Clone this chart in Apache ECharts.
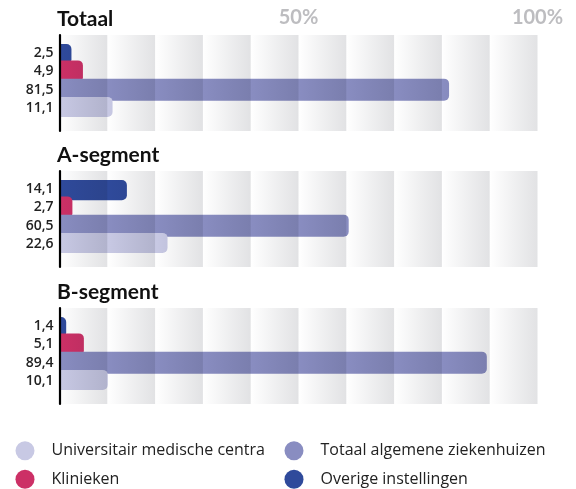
<!DOCTYPE html>
<html>
<head>
<meta charset="utf-8">
<script src="https://cdn.jsdelivr.net/npm/echarts@6/dist/echarts.min.js"></script>
<style>
  html, body { margin: 0; padding: 0; background: #fff; }
  #chart { width: 576px; height: 489px; }
</style>
</head>
<body>
<div id="chart"></div>
<script>
// data
const groups = ['Totaal', 'A-segment', 'B-segment'];
const seriesNames = ['Overige instellingen', 'Klinieken', 'Totaal algemene ziekenhuizen', 'Universitair medische centra'];
const totaalValues = [2.5, 4.9, 81.5, 11.1];
const aSegmentValues = [14.1, 2.7, 60.5, 22.6];
const bSegmentValues = [1.4, 5.1, 89.4, 10.1];
const topTicks = [50, 100];

const groupValues = [totaalValues, aSegmentValues, bSegmentValues];
const colors = ['#2f4a9b', '#cc3066', '#898dc1', '#c8c9e4'];

// layout
const panelTop = [35, 171, 308];
const panelHeight = 96;
const plotLeft = 59.5;
const plotWidth = 478;

const fmt = v => String(v).replace('.', ',');

const stripe = new echarts.graphic.LinearGradient(0, 0, 1, 0, [
  {offset: 0, color: 'rgba(20,24,40,0)'},
  {offset: 0.55, color: 'rgba(20,24,40,0.07)'},
  {offset: 1, color: 'rgba(20,24,40,0.125)'}
]);

const grids = [];
const xAxes = [];
const yAxes = [];
const series = [];
const titles = [];

groups.forEach((name, g) => {
  const top = panelTop[g];
  const vals = groupValues[g];

  titles.push({
    text: name,
    left: 57,
    top: top - 26,
    padding: 0,
    textStyle: {fontFamily: 'Lato', fontWeight: 'bold', fontSize: 21, color: '#111'}
  });

  // stripes + axis line grid
  grids.push({left: plotLeft, top: top, width: plotWidth, height: panelHeight});
  xAxes.push({
    type: 'value',
    gridIndex: grids.length - 1,
    min: 0,
    max: 100,
    interval: 10,
    position: 'top',
    z: 10,
    axisLine: {show: false},
    axisTick: {show: false},
    splitLine: {show: false},
    splitArea: {show: true, areaStyle: {color: [stripe]}},
    axisLabel: {
      show: g === 0,
      margin: 7,
      fontFamily: 'Lato',
      fontWeight: 'bold',
      fontSize: 20,
      color: '#bdbdc0',
      formatter: v => topTicks.includes(v) ? v + '%' : ''
    }
  });
  yAxes.push({
    type: 'value',
    gridIndex: grids.length - 1,
    min: 0,
    max: 1,
    z: 11,
    axisLine: {show: true, lineStyle: {color: '#000', width: 2.2}},
    axisTick: {show: false},
    axisLabel: {show: false},
    splitLine: {show: false}
  });

  // bars grid
  grids.push({left: plotLeft, top: top + 9, width: plotWidth, height: 73});
  const gi = grids.length - 1;
  xAxes.push({
    type: 'value',
    gridIndex: gi,
    min: 0,
    max: 100,
    show: false
  });
  yAxes.push({
    type: 'category',
    gridIndex: gi,
    inverse: true,
    data: vals.map(fmt),
    axisLine: {show: false},
    axisTick: {show: false},
    splitLine: {show: false},
    axisLabel: {
      margin: 6,
      fontFamily: 'Open Sans',
      fontSize: 14,
      fontWeight: 600,
      color: '#222'
    }
  });

  seriesNames.forEach((sn, j) => {
    series.push({
      name: sn,
      type: 'bar',
      xAxisIndex: gi,
      yAxisIndex: gi,
      barWidth: 22,
      barGap: '-100%',
      itemStyle: {color: colors[j], borderRadius: [0, 5, 5, 0]},
      data: vals.map((v, i) => i === j ? v : '-')
    });
  });
});

// one legend per item, 2 x 2
const legendItems = [
  {name: 'Universitair medische centra', left: 15.5, top: 441.2},
  {name: 'Totaal algemene ziekenhuizen', left: 284.5, top: 441.2},
  {name: 'Klinieken', left: 15.5, top: 469.8},
  {name: 'Overige instellingen', left: 284.5, top: 469.8}
];

const legends = legendItems.map(it => ({
  left: it.left,
  top: it.top,
  padding: 0,
  itemWidth: 19,
  itemHeight: 19,
  icon: 'circle',
  selectedMode: false,
  textStyle: {
    fontFamily: 'Open Sans',
    fontSize: 16,
    color: '#222',
    padding: [0, 0, 0, 12]
  },
  data: [it.name]
}));

const chart = echarts.init(document.getElementById('chart'));
chart.setOption({
  animation: false,
  backgroundColor: '#fff',
  title: titles,
  legend: legends,
  grid: grids,
  xAxis: xAxes,
  yAxis: yAxes,
  series: series
});
</script>
</body>
</html>
